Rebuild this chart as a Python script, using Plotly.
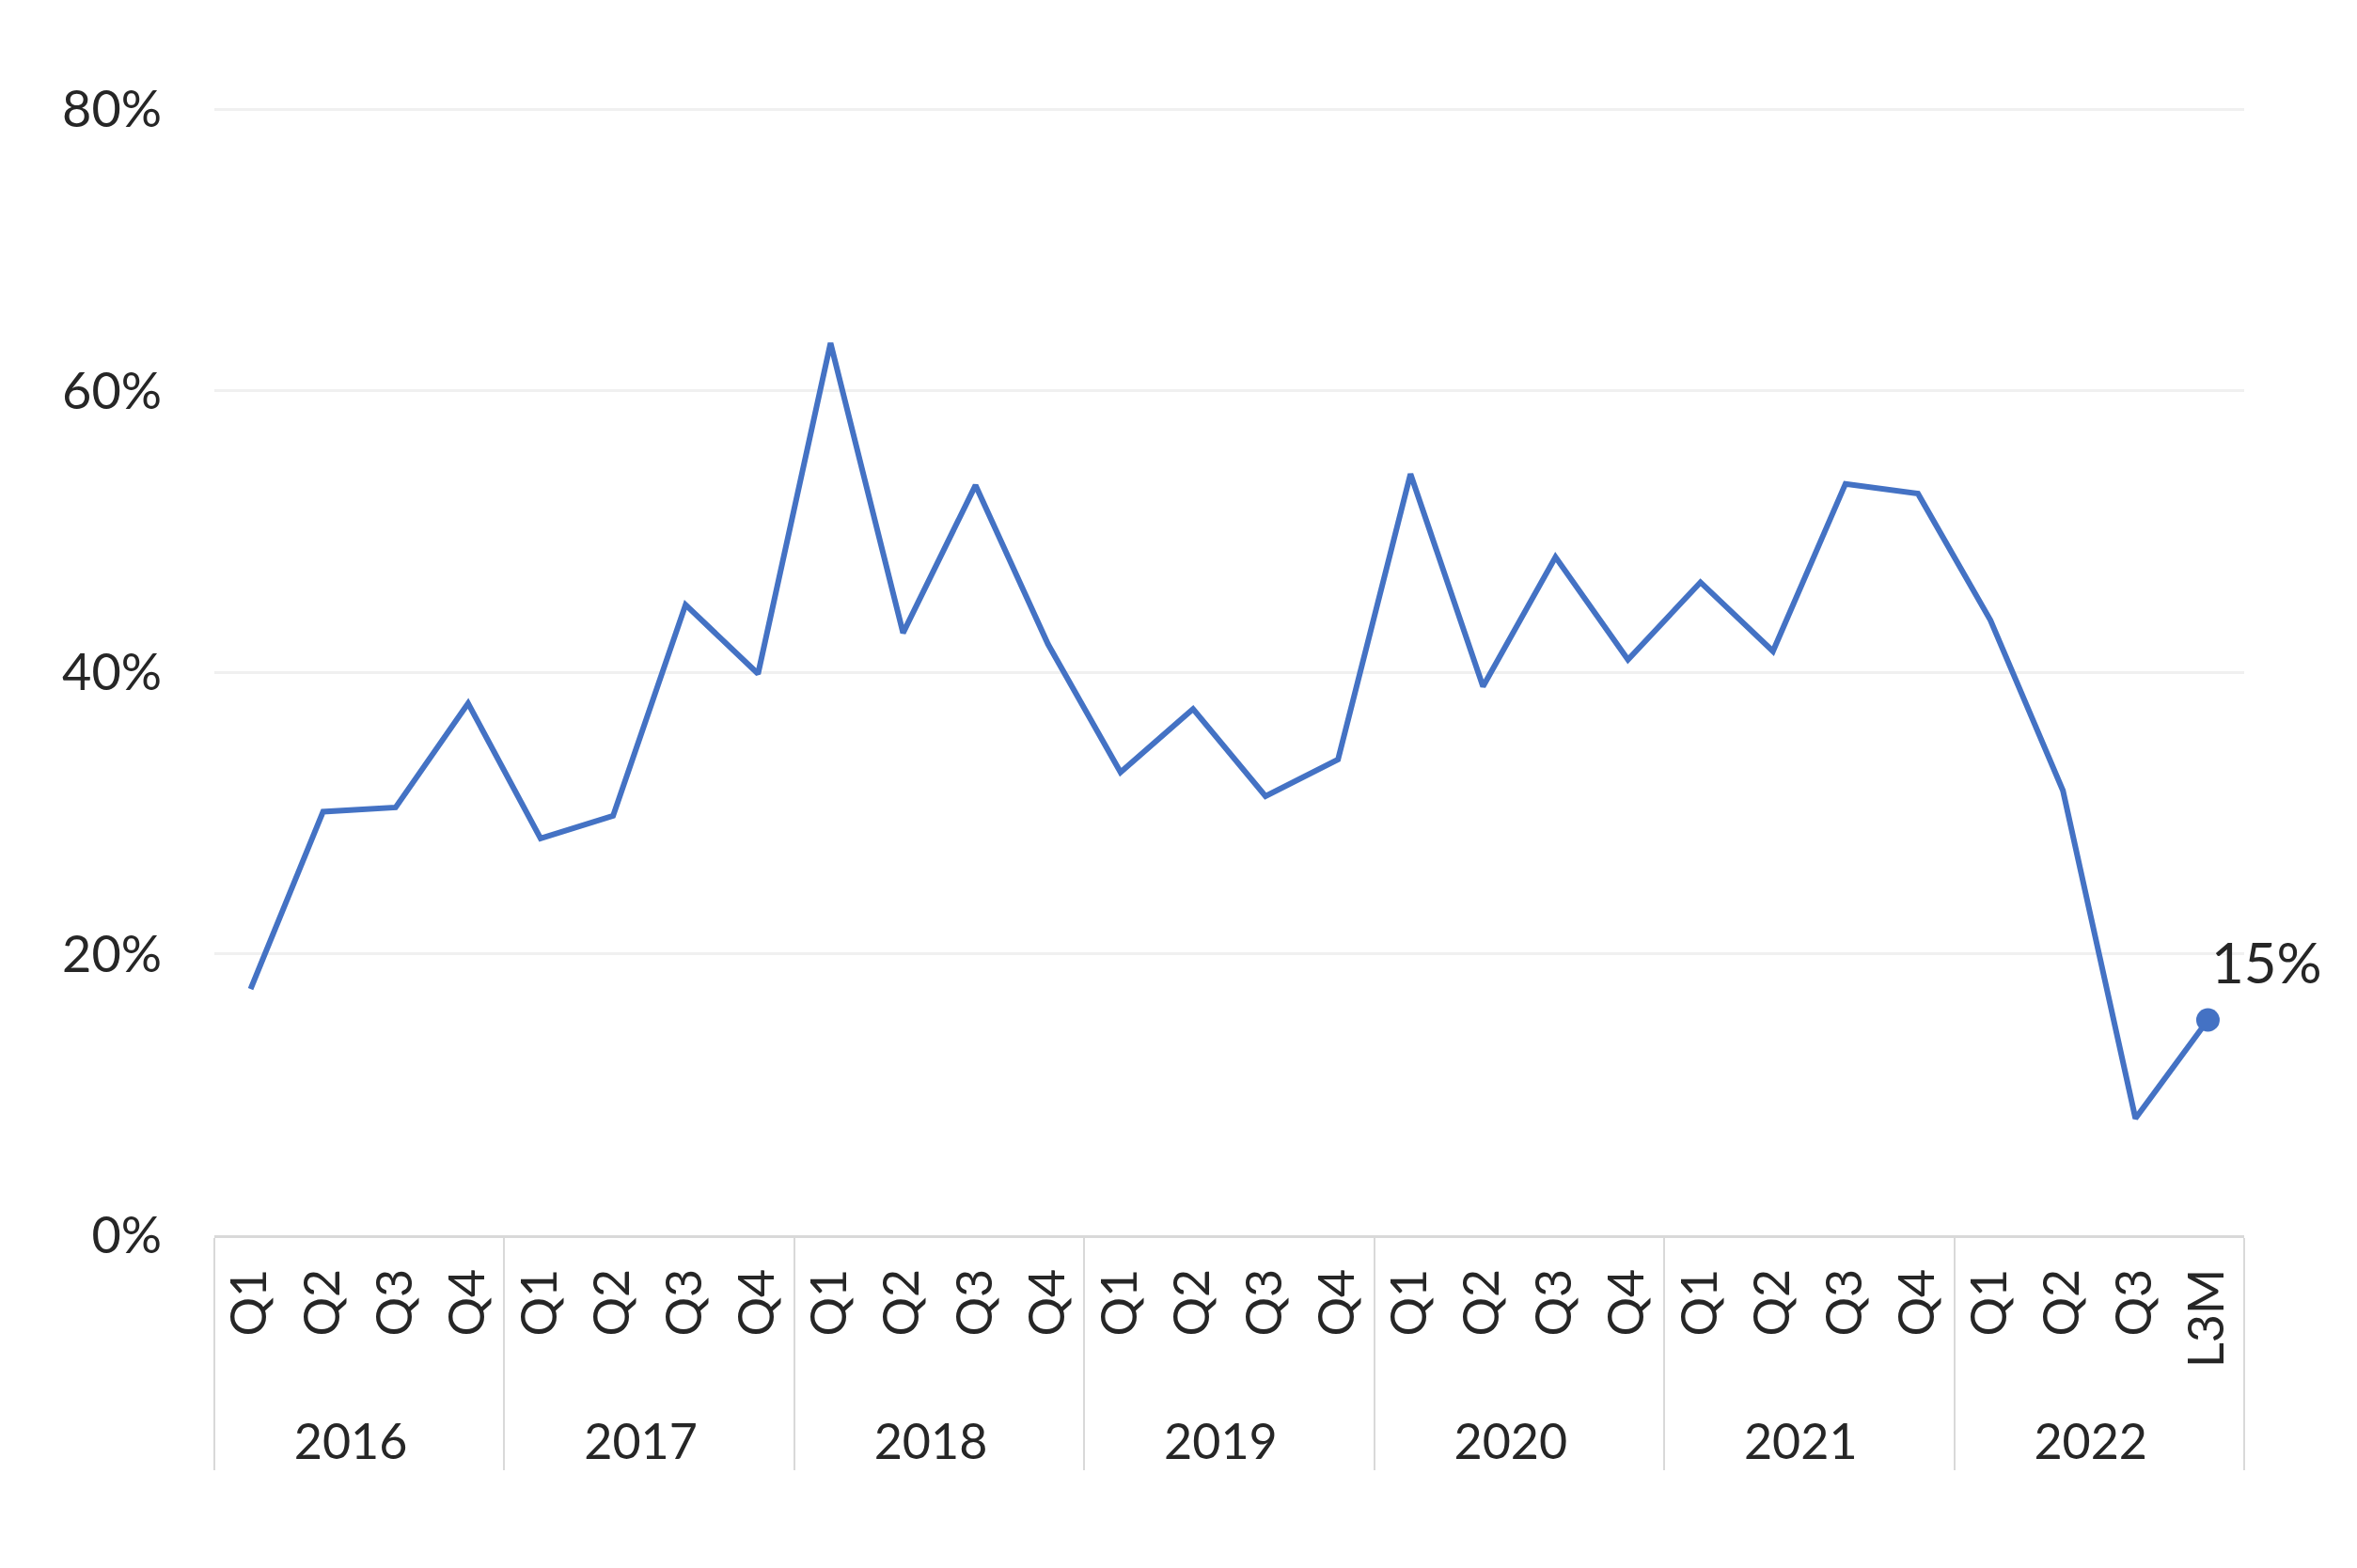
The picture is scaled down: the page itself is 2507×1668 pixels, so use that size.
import plotly.graph_objects as go

# --- Données ---
years = ["2016"] * 4 + ["2017"] * 4 + ["2018"] * 4 + ["2019"] * 4 + ["2020"] * 4 + ["2021"] * 4 + ["2022"] * 4
periods = ["Q1", "Q2", "Q3", "Q4"] * 6 + ["Q1", "Q2", "Q3", "L3M"]
values = [17.5, 30.1, 30.4, 37.8,
          28.2, 29.8, 44.8, 39.9,
          63.4, 42.8, 53.3, 42.0,
          32.9, 37.4, 31.2, 33.8,
          54.1, 39.0, 48.2, 40.9,
          46.4, 41.5, 53.4, 52.7,
          43.7, 31.6, 8.3, 15.3]
y_ticks = [0, 20, 40, 60, 80]
y_tick_labels = ["0%", "20%", "40%", "60%", "80%"]

# --- Style ---
LINE_BLUE = "#4472C4"
TEXT_COLOR = "#262626"
GRID_COLOR = "#F0F0F0"
AXIS_COLOR = "#D9D9D9"
FONT = "Lato"

# espace insécable devant chaque trimestre : laisse plus de place sous les étiquettes
period_labels = ["\u00a0" + p for p in periods]

fig = go.Figure()
fig.add_trace(go.Scatter(
    x=[years, period_labels],
    y=values,
    mode="lines",
    line=dict(color=LINE_BLUE, width=6),
    hoverinfo="skip",
))

# point final + étiquette
fig.add_trace(go.Scatter(
    x=[[years[-1]], [period_labels[-1]]],
    y=[values[-1]],
    mode="markers",
    marker=dict(color=LINE_BLUE, size=25),
    hoverinfo="skip",
))
fig.add_annotation(
    x=len(values) - 1, y=values[-1],
    xref="x", yref="y",
    text=f"{values[-1]:.0f}%",
    showarrow=False,
    xanchor="left", yanchor="middle",
    xshift=2, yshift=62,
    font=dict(family=FONT, size=60, color=TEXT_COLOR),
)

fig.update_layout(
    width=2507, height=1668,
    paper_bgcolor="white", plot_bgcolor="white",
    showlegend=False,
    margin=dict(l=220, r=128, t=104, b=362),
    font=dict(family=FONT, size=52, color=TEXT_COLOR),
)
fig.update_xaxes(
    type="multicategory",
    range=[-0.5, len(values) - 0.5],
    tickangle=-90,
    showline=True, linecolor=AXIS_COLOR, linewidth=3,
    showgrid=False, ticks="",
    showdividers=True, dividercolor=AXIS_COLOR, dividerwidth=2,
    ticklabelstandoff=12,
    tickfont=dict(family=FONT, size=52, color=TEXT_COLOR),
)
fig.update_yaxes(
    range=[0, 80.3],
    tickvals=y_ticks, ticktext=y_tick_labels,
    showgrid=True, gridcolor=GRID_COLOR, gridwidth=3,
    zeroline=False, showline=False, ticks="",
    ticklabelstandoff=55,
    tickfont=dict(family=FONT, size=54, color=TEXT_COLOR),
)

fig.write_html("out.html")
